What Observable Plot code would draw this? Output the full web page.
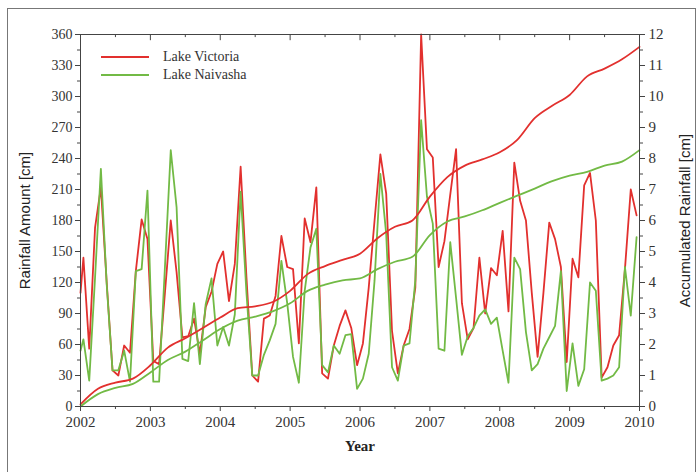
<!DOCTYPE html>
<html>
<head>
<meta charset="utf-8">
<script src="https://cdn.jsdelivr.net/npm/d3@7"></script>
<script src="https://cdn.jsdelivr.net/npm/@observablehq/plot@0.6"></script>
<style>
  body { margin: 0; background: #fff; }
  #wrap { position: relative; width: 700px; height: 472px; overflow: hidden; background: #fff; }
  #border { position: absolute; left: 7px; top: 8px; width: 689px; height: 470px; border: 1px solid #777; box-sizing: border-box; }
  #legend { position: absolute; left: 101px; top: 48px; font-family: "Liberation Serif", serif; font-size: 14px; color: #333; line-height: 18px; }
  #legend div { display: flex; align-items: center; }
  #legend svg { margin-right: 14px; }
  #chart { position: absolute; left: 0; top: 0; }
</style>
</head>
<body>
<div id="wrap">
  <div id="border"></div>
  <div id="chart"></div>
  <div id="legend"></div>
</div>
<script>
// Monthly rainfall (cm); first entry is the value at the start of 2002, then mid-month values Jan 2002 – Dec 2009
const victoria = [110,
  144, 56, 173, 212, 120, 35, 30, 59, 52, 131, 181, 162,
  44, 41, 110, 180, 130, 67, 68, 85, 51, 96, 111, 138,
  150, 102, 138, 232, 125, 30, 24, 85, 88, 107, 165, 135,
  133, 61, 182, 159, 212, 32, 27, 59, 78, 93, 76, 40,
  61, 115, 180, 244, 206, 73, 32, 59, 75, 115, 360, 249,
  241, 135, 160, 205, 249, 100, 65, 76, 144, 90, 134, 127,
  170, 92, 236, 199, 180, 110, 48, 110, 178, 162, 135, 43,
  143, 125, 214, 226, 180, 28, 38, 59, 69, 133, 210, 185];
const naivasha = [54,
  65, 25, 125, 230, 118, 35, 35, 54, 24, 131, 133, 209,
  24, 24, 135, 248, 193, 46, 44, 100, 41, 99, 124, 59,
  77, 59, 89, 208, 110, 30, 30, 50, 64, 80, 141, 100,
  48, 23, 112, 154, 172, 40, 33, 59, 51, 69, 70, 17,
  27, 51, 122, 225, 167, 38, 25, 59, 61, 122, 277, 203,
  177, 56, 54, 159, 105, 50, 68, 76, 88, 94, 80, 86,
  54, 23, 144, 133, 72, 35, 41, 56, 67, 78, 131, 15,
  61, 20, 36, 120, 112, 25, 27, 30, 38, 135, 88, 164];
// Accumulated rainfall (cm, right axis), read quarterly 2002.00 – 2010.00
const accVictoria = [0.07, 0.57, 0.77, 0.9, 1.33, 1.9, 2.2, 2.53, 2.87, 3.17, 3.23, 3.37,
  3.73, 4.27, 4.53, 4.73, 4.93, 5.43, 5.8, 6.0, 6.77, 7.4, 7.77, 7.97,
  8.2, 8.6, 9.3, 9.7, 10.05, 10.65, 10.9, 11.2, 11.6];
const accNaivasha = [0.0, 0.4, 0.6, 0.73, 1.1, 1.5, 1.77, 2.13, 2.5, 2.77, 2.9, 3.07,
  3.33, 3.73, 3.93, 4.07, 4.13, 4.43, 4.67, 4.83, 5.53, 5.97, 6.13, 6.33,
  6.57, 6.8, 7.03, 7.27, 7.45, 7.57, 7.77, 7.9, 8.27];
const years = [2002, 2003, 2004, 2005, 2006, 2007, 2008, 2009, 2010];
const leftTicks = [0, 30, 60, 90, 120, 150, 180, 210, 240, 270, 300, 330, 360];
const rightTicks = [0, 1, 2, 3, 4, 5, 6, 7, 8, 9, 10, 11, 12];
const seriesNames = ["Lake Victoria", "Lake Naivasha"];
const colors = ["#e2302e", "#72ba45"];

const cmScale = 30; // right axis: 1 cm of accumulated rainfall = 30 units of the left axis
const monthX = i => i === 0 ? 2002 : 2002 + (i - 0.5) / 12;
const quarterX = i => 2002 + i / 4;

const monthly = (vals) => vals.map((v, i) => ({x: monthX(i), y: v}));
const acc = (vals) => vals.map((v, i) => ({x: quarterX(i), y: v * cmScale}));

const halfYears = years.slice(0, -1).map(y => y + 0.5);
const minorLeft = leftTicks.slice(0, -1).map(v => v + 15);
const serif = "'Liberation Serif', 'Times New Roman', serif";
const sans = "'Liberation Sans', Arial, sans-serif";

const chart = Plot.plot({
  width: 700,
  height: 472,
  marginLeft: 80,
  marginRight: 61,
  marginTop: 34,
  marginBottom: 66,
  style: {fontSize: "14px", color: "#333", background: "transparent", overflow: "visible"},
  x: {domain: [2002, 2010]},
  y: {domain: [0, 360]},
  marks: [
    Plot.line(monthly(victoria), {x: "x", y: "y", stroke: colors[0], strokeWidth: 1.8}),
    Plot.line(monthly(naivasha), {x: "x", y: "y", stroke: colors[1], strokeWidth: 1.8}),
    Plot.line(acc(accVictoria), {x: "x", y: "y", stroke: colors[0], strokeWidth: 1.8, curve: "monotone-x"}),
    Plot.line(acc(accNaivasha), {x: "x", y: "y", stroke: colors[1], strokeWidth: 1.8, curve: "monotone-x"}),
    Plot.frame({stroke: "#444", strokeWidth: 1}),
    Plot.axisX({ticks: years, tickFormat: d3.format("d"), tickSize: 5, tickPadding: 5, label: null, stroke: "#444", fontSize: 15}),
    Plot.axisX({ticks: halfYears, tickFormat: () => "", tickSize: 3, label: null, stroke: "#444"}),
    Plot.ruleX(years.concat(halfYears), {x: d => d, y1: 360, y2: d => Number.isInteger(d) ? 354 : 357, stroke: "#444"}),
    Plot.axisY({ticks: leftTicks, tickSize: 5, tickPadding: 3, label: null, stroke: "#444", fontSize: 14}),
    Plot.axisY({ticks: minorLeft, tickFormat: () => "", tickSize: 3, label: null, stroke: "#444"}),
    Plot.axisY({anchor: "right", ticks: rightTicks.map(d => d * cmScale), tickFormat: d => d / cmScale, tickSize: 5, tickPadding: 4, label: null, stroke: "#444", fontSize: 15}),
    Plot.axisY({anchor: "right", ticks: minorLeft, tickFormat: () => "", tickSize: 3, label: null, stroke: "#444"}),
    Plot.text(["Rainfall Amount [cm]"], {frameAnchor: "left", rotate: -90, dx: -55, fontSize: 15, fill: "#222", textAnchor: "middle"}),
    Plot.text(["Accumulated Rainfall [cm]"], {frameAnchor: "right", rotate: -90, dx: 46, fontSize: 15, fill: "#222", textAnchor: "middle"}),
    Plot.text(["Year"], {frameAnchor: "bottom", dy: 44, fontWeight: "bold", fontSize: 15, fill: "#222"})
  ]
});
document.getElementById("chart").appendChild(chart);
// fonts: serif for ticks and "Year", sans-serif for the two rainfall titles
chart.querySelectorAll("text").forEach(t => {
  t.style.fontFamily = /Rainfall/.test(t.textContent) ? sans : serif;
  t.style.fontVariantNumeric = "normal";
});

const legend = document.getElementById("legend");
seriesNames.forEach((name, i) => {
  const row = document.createElement("div");
  row.innerHTML = `<svg width="48" height="4"><line x1="0" x2="48" y1="2" y2="2" stroke="${colors[i]}" stroke-width="2"/></svg><span>${name}</span>`;
  legend.appendChild(row);
});
</script>
</body>
</html>
